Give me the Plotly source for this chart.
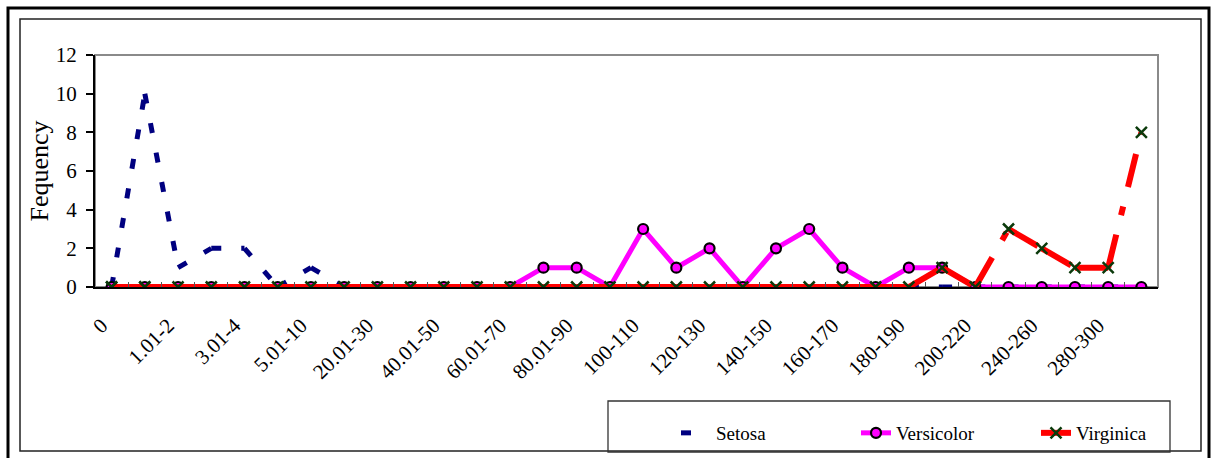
import plotly.graph_objects as go

# Size classes along the x axis
categories = [
    "0", "0.01-1", "1.01-2", "2.01-3", "3.01-4", "4.01-5", "5.01-10", "10.01-20",
    "20.01-30", "30.01-40", "40.01-50", "50.01-60", "60.01-70", "70.01-80",
    "80.01-90", "90.01-100", "100-110", "110-120", "120-130", "130-140",
    "140-150", "150-160", "160-170", "170-180", "180-190", "190-200",
    "200-220", "220-240", "240-260", "260-280", "280-300", ">300",
]

# Frequency per class for each species
setosa = [0, 10, 1, 2, 2, 0, 1, 0, 0, 0, 0, 0, 0, 0, 0, 0,
          0, 0, 0, 0, 0, 0, 0, 0, 0, 0, 0, 0, 0, 0, 0, 0]
versicolor = [0, 0, 0, 0, 0, 0, 0, 0, 0, 0, 0, 0, 0, 1, 1, 0,
              3, 1, 2, 0, 2, 3, 1, 0, 1, 1, 0, 0, 0, 0, 0, 0]
virginica = [0, 0, 0, 0, 0, 0, 0, 0, 0, 0, 0, 0, 0, 0, 0, 0,
             0, 0, 0, 0, 0, 0, 0, 0, 0, 1, 0, 3, 2, 1, 1, 8]

FONT = "Liberation Serif, Times New Roman, serif"
NAVY = "#000080"
MAGENTA = "#FF00FF"
RED = "#FF0000"
XGREEN = "#0B3A0B"

W, H = 1216, 458
L, R, T, B = 95, 1158, 55, 287  # plot area in pixels


def px_x(px):
    return (px - L) / (R - L)


def px_y(py):
    return (B - py) / (B - T)


xs = list(range(len(categories)))
fig = go.Figure()

# Dashed series are drawn segment by segment so the dash pattern
# restarts at every data point.
def add_segments(values, name, line, legend_mode="lines", marker=None):
    for i in range(len(values) - 1):
        first = i == 0
        fig.add_trace(go.Scatter(
            x=[xs[i], xs[i + 1]], y=[values[i], values[i + 1]],
            mode=legend_mode if first else "lines",
            line=line, marker=marker, name=name,
            legendgroup=name, showlegend=first, hoverinfo="skip",
        ))


add_segments(setosa, "Setosa", dict(color=NAVY, width=5, dash="10px,20px"))

fig.add_trace(go.Scatter(
    x=xs, y=versicolor, mode="lines+markers", name="Versicolor",
    line=dict(color=MAGENTA, width=5),
    marker=dict(symbol="circle", size=10, color=MAGENTA,
                line=dict(color="black", width=2.2)),
))

x_marker = dict(symbol="x-thin", size=11, color=XGREEN,
                line=dict(color=XGREEN, width=2.5))
add_segments(virginica, "Virginica",
             dict(color=RED, width=6, dash="34px,20px,9px,20px"),
             legend_mode="lines+markers", marker=x_marker)
fig.add_trace(go.Scatter(
    x=xs, y=virginica, mode="markers", marker=x_marker,
    showlegend=False, legendgroup="Virginica", hoverinfo="skip",
))

shapes = [
    # outer and inner chart frames
    dict(type="rect", xref="paper", yref="paper",
         x0=px_x(8), x1=px_x(1209), y0=px_y(470), y1=px_y(8),
         line=dict(color="black", width=3), layer="below"),
    dict(type="rect", xref="paper", yref="paper",
         x0=px_x(20), x1=px_x(1201), y0=px_y(451), y1=px_y(19),
         line=dict(color="#222222", width=1.5), layer="below"),
    # plot-area border
    dict(type="rect", xref="x domain", yref="y domain", x0=0, x1=1, y0=0, y1=1,
         line=dict(color="#8a8a8a", width=2), layer="below"),
    # legend box
    dict(type="rect", xref="paper", yref="paper",
         x0=px_x(608), x1=px_x(1170), y0=px_y(452), y1=px_y(401),
         line=dict(color="#333333", width=1.3), layer="below"),
]

fig.update_layout(
    width=W, height=H,
    margin=dict(l=L, r=W - R, t=T, b=H - B, autoexpand=False),
    paper_bgcolor="white", plot_bgcolor="white",
    font=dict(family=FONT, color="black"),
    shapes=shapes,
    showlegend=True,
    legend=dict(
        orientation="h", x=px_x(676), y=px_y(414), xanchor="left", yanchor="top",
        font=dict(family=FONT, size=19, color="black"),
        bgcolor="rgba(0,0,0,0)", borderwidth=0,
        entrywidth=135, traceorder="normal",
    ),
    xaxis=dict(
        range=[-0.5, len(categories) - 0.5],
        tickmode="array", tickvals=xs[::2], ticktext=categories[::2],
        tickangle=-45, ticks="", showgrid=False, zeroline=False,
        showline=True, linecolor="black", linewidth=2,
        tickfont=dict(family=FONT, size=21, color="black"),
        ticklabelstandoff=16, ticklabelshift=-10,
        minor=dict(tickmode="array", tickvals=[i + 0.5 for i in xs[:-1]],
                   ticks="inside", ticklen=5, tickcolor="#555555", tickwidth=1,
                   showgrid=False),
    ),
    yaxis=dict(
        range=[0, 12], tickmode="linear", tick0=0, dtick=2,
        ticks="outside", ticklen=7, tickcolor="black", tickwidth=1.5,
        showgrid=False, zeroline=False,
        showline=True, linecolor="black", linewidth=2,
        tickfont=dict(family=FONT, size=21, color="black"),
        ticklabelstandoff=5,
        title=dict(text="Fequency", font=dict(family=FONT, size=26, color="black"),
                   standoff=0),
    ),
)

fig.write_html("out.html")
